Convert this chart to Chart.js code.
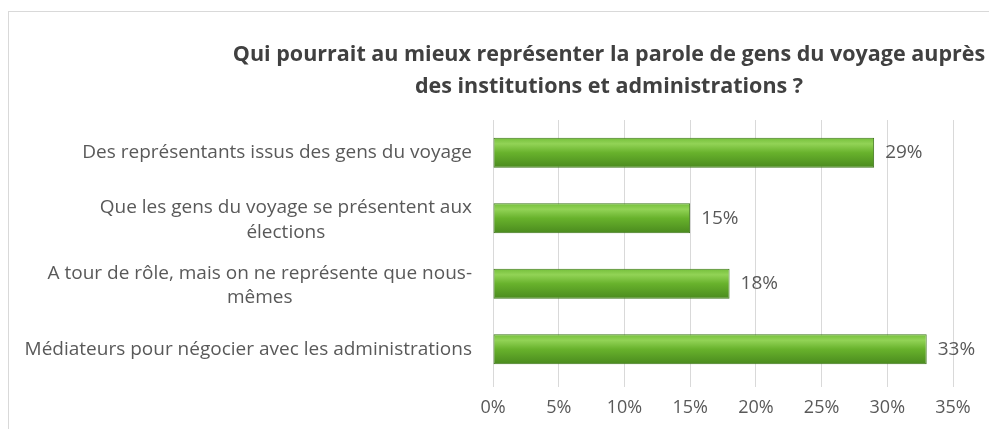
<!DOCTYPE html>
<html>
<head>
<meta charset="utf-8">
<script src="https://cdn.jsdelivr.net/npm/chart.js@4"></script>
<style>
  html, body { margin: 0; padding: 0; background: #fff; }
  #wrap { width: 989px; height: 429px; }
</style>
</head>
<body>
<div id="wrap"><canvas id="voyageChart"></canvas></div>
<script>
// Answers (each label may wrap on several lines) and their shares in %
const answers = [
    ['Des représentants issus des gens du voyage'],
    ['Que les gens du voyage se présentent aux', 'élections'],
    ['A tour de rôle, mais on ne représente que nous-', 'mêmes'],
    ['Médiateurs pour négocier avec les administrations']
];
const shares = [29, 15, 18, 33];
const titleLines = [
    'Qui pourrait au mieux représenter la parole de gens du voyage auprès',
    'des institutions et administrations ?'
];

const textGrey = '#595959';
const labelFont = '19px "Open Sans", sans-serif';

// Frame + title drawn behind everything
const framePlugin = {
    id: 'frame',
    beforeDraw(chart) {
        const ctx = chart.ctx;
        ctx.save();
        ctx.fillStyle = '#fff';
        ctx.fillRect(0, 0, chart.width, chart.height);
        ctx.strokeStyle = '#d9d9d9';
        ctx.lineWidth = 1;
        ctx.strokeRect(8.5, 11.5, chart.width, chart.height);
        ctx.fillStyle = '#404040';
        ctx.font = 'bold 21.5px "Open Sans", sans-serif';
        ctx.textAlign = 'center';
        ctx.textBaseline = 'middle';
        titleLines.forEach((line, i) => ctx.fillText(line, 609, 55 + i * 32));
        ctx.restore();
    }
};

// Category labels: block right-aligned against the axis, lines centred inside the block
const categoryLabels = {
    id: 'categoryLabels',
    afterDraw(chart) {
        const ctx = chart.ctx;
        const yScale = chart.scales.y;
        const right = chart.chartArea.left - 21;
        const lineH = 24.5;
        ctx.save();
        ctx.font = labelFont;
        ctx.fillStyle = textGrey;
        ctx.textAlign = 'center';
        ctx.textBaseline = 'middle';
        answers.forEach((lines, i) => {
            const widest = Math.max(...lines.map(l => ctx.measureText(l).width));
            const cx = right - widest / 2;
            const cy = yScale.getPixelForTick(i) - (lines.length - 1) * lineH / 2 + (lines.length > 1 ? 2 : 0);
            lines.forEach((l, j) => ctx.fillText(l, cx, cy + j * lineH));
        });
        ctx.restore();
    }
};

// Percent value next to each bar
const valueLabels = {
    id: 'valueLabels',
    afterDatasetsDraw(chart) {
        const ctx = chart.ctx;
        const meta = chart.getDatasetMeta(0);
        ctx.save();
        ctx.font = labelFont;
        ctx.fillStyle = textGrey;
        ctx.textAlign = 'left';
        ctx.textBaseline = 'middle';
        meta.data.forEach((bar, i) => {
            ctx.fillText(shares[i] + '%', bar.x + 11, bar.y);
        });
        ctx.restore();
    }
};

// Glossy green fill for bars
function barFill(context) {
    const chart = context.chart;
    const yScale = chart.scales && chart.scales.y;
    if (!chart.chartArea || !yScale) return '#6ab42d';
    const mid = yScale.getPixelForValue(context.dataIndex);
    if (!isFinite(mid)) return '#6ab42d';
    const half = 15;
    const g = chart.ctx.createLinearGradient(0, mid - half, 0, mid + half);
    g.addColorStop(0, '#74bf3a');
    g.addColorStop(0.2, '#92d356');
    g.addColorStop(0.5, '#68b22c');
    g.addColorStop(1, '#4a8a1e');
    return g;
}

const ctx = document.getElementById('voyageChart').getContext('2d');
const chart = new Chart(ctx, {
    type: 'bar',
    data: {
        labels: answers,
        datasets: [{
            data: shares,
            backgroundColor: barFill,
            borderColor: '#3d7519',
            borderWidth: 1,
            borderSkipped: false,
            categoryPercentage: 0.92,
            barPercentage: 0.5
        }]
    },
    plugins: [framePlugin, categoryLabels, valueLabels],
    options: {
        indexAxis: 'y',
        responsive: true,
        maintainAspectRatio: false,
        animation: false,
        layout: {
            padding: { left: 493, right: 36, top: 120, bottom: 0 }
        },
        plugins: {
            legend: { display: false },
            title: { display: false },
            tooltip: { enabled: false }
        },
        scales: {
            x: {
                min: 0,
                max: 35,
                ticks: {
                    stepSize: 5,
                    padding: 10,
                    color: textGrey,
                    font: { family: '"Open Sans", sans-serif', size: 18 },
                    callback: v => v + '%'
                },
                grid: {
                    color: '#d9d9d9',
                    tickLength: 5,
                    tickColor: '#d9d9d9'
                },
                border: { display: false },
                afterFit(scale) { scale.height = 47; }
            },
            y: {
                ticks: { display: false },
                grid: { display: false, drawTicks: false },
                border: { display: false },
                afterFit(scale) { scale.width = 0; }
            }
        }
    }
});
</script>
</body>
</html>
